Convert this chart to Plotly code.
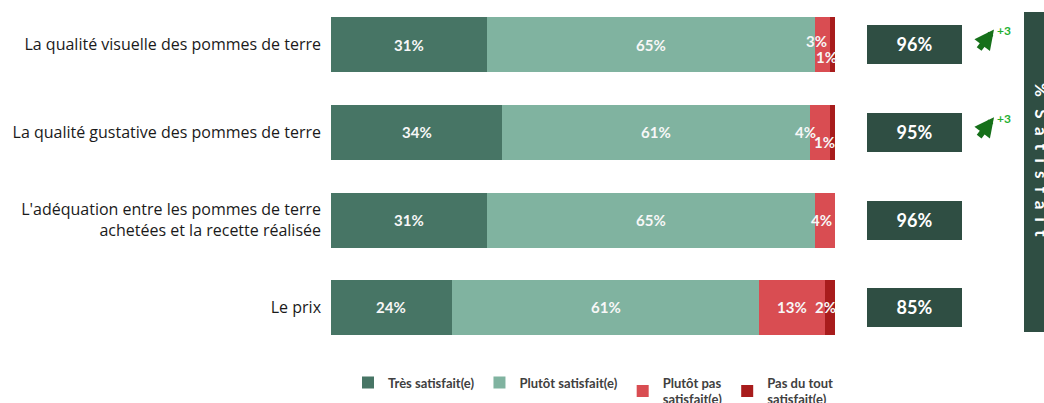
import plotly.graph_objects as go

categories = [
    "La qualité visuelle des pommes de terre",
    "La qualité gustative des pommes de terre",
    "L'adéquation entre les pommes de terre<br>achetées et la recette réalisée",
    "Le prix",
]
series_names = ["Très satisfait(e)", "Plutôt satisfait(e)", "Plutôt pas<br>satisfait(e)", "Pas du tout<br>satisfait(e)"]
tres_satisfait = [31, 34, 31, 24]
plutot_satisfait = [65, 61, 65, 61]
plutot_pas = [3, 4, 4, 13]
pas_du_tout = [1, 1, 0, 2]
total_satisfait = [96, 95, 96, 85]
evolution = ["+3", "+3", None, None]
panel_title = "% Satisfait"

series_values = [tres_satisfait, plutot_satisfait, plutot_pas, pas_du_tout]
colors = ["#477565", "#80B3A0", "#D94D52", "#A81C1C"]
box_color = "#2F4E43"

W, H = 1044, 403
fig = go.Figure()

for name, vals, col in zip(series_names, series_values, colors):
    fig.add_trace(go.Bar(
        x=vals, y=categories, orientation="h", name=name,
        marker=dict(color=col, line=dict(width=0)), width=0.627,
        hoverinfo="skip", xaxis="x", yaxis="y",
    ))

# summary boxes
fig.add_trace(go.Bar(
    x=[1] * len(categories), y=categories, orientation="h", xaxis="x2", yaxis="y",
    width=0.445, marker=dict(color=box_color, line=dict(width=0)),
    text=[f"{v}%" for v in total_satisfait], textposition="inside",
    insidetextanchor="middle", textangle=0,
    textfont=dict(family="Lato", size=18, color="white", weight="bold"),
    showlegend=False, hoverinfo="skip",
))

# segment labels (style offsets in px per (row, series))
offsets = {
    (0, 2): (-6, 4), (0, 3): (-6, -12),
    (1, 2): (-14, 0), (1, 3): (-8, -10),
    (2, 2): (-3, 0),
    (3, 3): (-4, 0),
}
annotations = []
for i, cat in enumerate(categories):
    cum = 0
    for j, vals in enumerate(series_values):
        v = vals[i]
        if v > 0:
            dx, dy = offsets.get((i, j), (0, 0))
            annotations.append(dict(
                x=cum + v / 2, y=cat, xref="x", yref="y", text=f"<b>{v}%</b>",
                showarrow=False, xshift=dx, yshift=dy,
                font=dict(family="Lato", size=15, color="#F7F7F7"),
            ))
        cum += v

# evolution arrows
for i, cat in enumerate(categories):
    if evolution[i]:
        annotations.append(dict(
            x=994 / W, y=cat, xref="paper", yref="y", yshift=15,
            ax=-16, ay=21, text="", showarrow=True, arrowhead=2,
            arrowsize=0.65, arrowwidth=6, arrowcolor="#16701A",
        ))
for i, cat in enumerate(categories):
    if evolution[i]:
        annotations.append(dict(
            x=1004 / W, y=cat, xref="paper", yref="y", yshift=14,
            text=f"<b>{evolution[i]}</b>", showarrow=False, xanchor="center",
            font=dict(family="Lato", size=12, color="#22B030"),
        ))

# right vertical panel text (letter-spaced)
spaced = panel_title[0] + "\u00a0\u00a0 " + " \u00a0".join(panel_title[2:])
annotations.append(dict(
    x=1042 / W, y=1 - 160 / H, xref="paper", yref="paper", xanchor="center", yanchor="middle",
    text=f"<b>{spaced}</b>", textangle=90, showarrow=False,
    font=dict(family="Lato", size=17, color="white"),
))

fig.update_layout(
    width=W, height=H,
    margin=dict(l=0, r=0, t=0, b=0, autoexpand=False),
    paper_bgcolor="white", plot_bgcolor="white",
    barmode="stack", bargap=0,
    xaxis=dict(domain=[331 / W, 835 / W], range=[0, 100], visible=False, fixedrange=True),
    xaxis2=dict(domain=[867 / W, 962 / W], range=[0, 1], visible=False, anchor="y"),
    yaxis=dict(
        domain=[1 - 351.3 / H, 1 - 0.7 / H], range=[3.5, -0.5],
        showgrid=False, zeroline=False, showline=False, ticks="",
        ticklabelstandoff=9,
        tickfont=dict(family="Open Sans", size=16, color="#1A1A1A"),
    ),
    legend=dict(
        orientation="h", x=348 / W, xanchor="left", y=1 - 391 / H, yanchor="middle",
        font=dict(family="Lato", size=13, color="#404040", weight="bold"),
        bgcolor="rgba(0,0,0,0)", itemclick=False, traceorder="normal",
    ),
    shapes=[dict(
        type="rect", xref="paper", yref="paper",
        x0=1024 / W, x1=1.05, y0=1 - 332 / H, y1=1 - 12 / H,
        fillcolor=box_color, line=dict(width=0), layer="below",
    )],
    annotations=annotations,
)

fig.write_html("out.html", config={"displayModeBar": False},
               post_script="document.body.style.margin='0';")
